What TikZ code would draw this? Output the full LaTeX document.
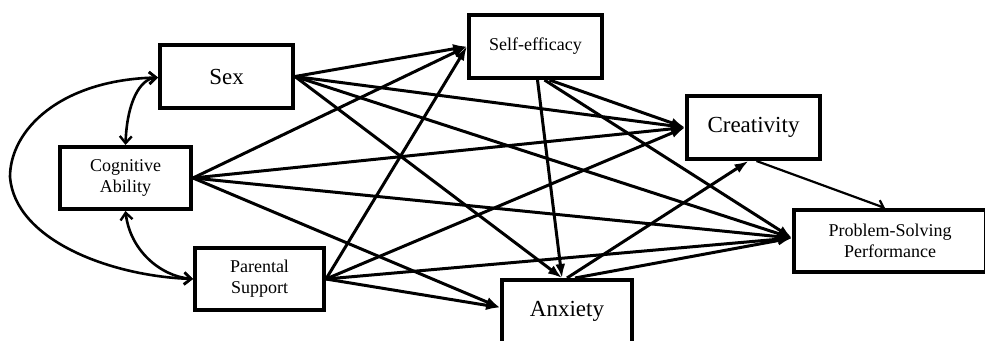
\documentclass[tikz,border=0pt]{standalone}
\usepackage{fontspec}
\setmainfont{Liberation Serif}
\usetikzlibrary{arrows.meta}
\begin{document}
\begin{tikzpicture}[x=1pt,y=-1pt,
  box/.style={draw,line width=4pt,rectangle,inner sep=0pt,align=center},
  bigtext/.style={font=\fontsize{23}{27}\selectfont},
  smalltext/.style={font=\fontsize{18}{21}\selectfont},
  path/.style={line width=3pt,-{Latex[length=14pt,width=10pt]}},
  thinpath/.style={line width=2.2pt,-{Straight Barb[length=6pt,width=11pt,line width=2.2pt]}},
  corr/.style={line width=2.6pt,{Straight Barb[length=7pt,width=12pt,line width=2.4pt]}-{Straight Barb[length=7pt,width=12pt,line width=2.4pt]}}
]
\clip (0,0) rectangle (985,340);
\fill[white] (0,0) rectangle (985,340);

\node[box,bigtext,minimum width=133pt,minimum height=63pt] (sex) at (226.5,76.5) {Sex};
\node[box,smalltext,minimum width=131pt,minimum height=62pt] (cog) at (125.5,178) {Cognitive\\Ability};
\node[box,smalltext,minimum width=129pt,minimum height=62pt] (par) at (259.5,279) {Parental\\Support};
\node[box,smalltext,minimum width=133pt,minimum height=63pt] (se) at (535.5,46.5) {Self-efficacy};
\node[box,bigtext,minimum width=133pt,minimum height=63pt] (cre) at (753.5,127.5) {Creativity};
\node[box,smalltext,minimum width=192pt,minimum height=62pt] (psp) at (890,241) {Problem-Solving\\Performance};
\node[box,bigtext,minimum width=130pt,minimum height=63pt] (anx) at (567,311.5) {Anxiety};

% exogenous -> mediators / outcome
\foreach \s in {sex,cog,par}{
  \draw[path] (\s.east) -- (se.west);
  \draw[path] (\s.east) -- (cre.west);
  \draw[path] (\s.east) -- ([yshift=3pt]psp.west);
}
\draw[path] (sex.east) -- ([xshift=-5pt]anx.north);
\draw[path] (cog.east) -- ([yshift=4pt]anx.west);
\draw[path] (par.east) -- ([yshift=4pt]anx.west);

% self-efficacy
\draw[path] ([xshift=2pt]se.south) -- ([xshift=-5pt]anx.north);
\draw[path] ([xshift=14pt]se.south) -- (cre.west);
\draw[path] ([xshift=9pt]se.south) -- ([yshift=3pt]psp.west);

% anxiety
\draw[path] (anx.north) -- ([xshift=-5pt]cre.south);
\draw[path] ([xshift=8pt]anx.north) -- ([yshift=3pt]psp.west);

% creativity -> performance
\draw[thinpath] ([xshift=3pt]cre.south) -- ([xshift=-5pt]psp.north);

% correlations
\draw[corr] ([yshift=-1pt]sex.west) .. controls (140,79) and (127,102) .. (cog.north);
\draw[corr] (cog.south) .. controls (130,250) and (160,276) .. (par.west);
\draw[corr] ([yshift=-1pt]sex.west) .. controls (60,80) and (10,130) .. (10,177)
  .. controls (15,240) and (110,276) .. (par.west);
\end{tikzpicture}
\end{document}
